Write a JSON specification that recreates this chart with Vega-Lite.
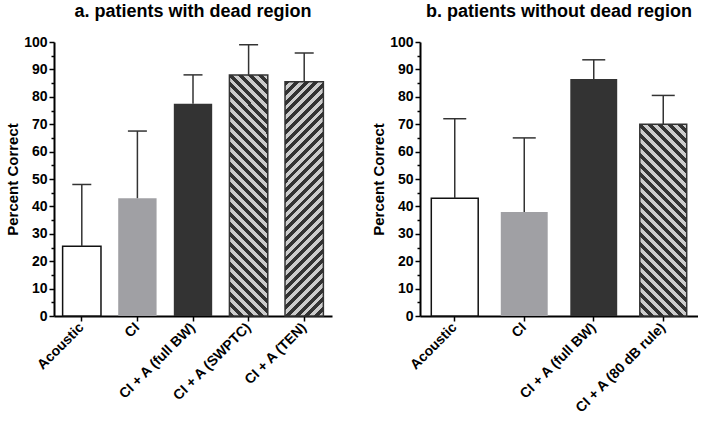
{
  "$schema": "https://vega.github.io/schema/vega-lite/v6.json",
  "padding": {"left": 5, "top": 3, "right": 0, "bottom": 0},
  "spacing": 39,
  "config": {
    "view": {"stroke": null},
    "font": "Liberation Sans",
    "title": {"fontSize": 18, "fontWeight": "bold", "color": "#000", "font": "Liberation Sans"},
    "axis": {"domainColor": "#000", "domainWidth": 2, "tickColor": "#000", "tickWidth": 1.5, "labelColor": "#000", "labelFont": "Liberation Sans", "labelFontWeight": "bold", "titleColor": "#000", "titleFont": "Liberation Sans", "titleFontWeight": "bold", "titleFontSize": 15, "grid": false},
    "axisX": {"labelFontSize": 14},
    "axisY": {"labelFontSize": 14}
  },
  "datasets": {
    "a": [
      {"group": "Acoustic", "mean": 25.5, "upper": 48},
      {"group": "CI", "mean": 43, "upper": 67.5},
      {"group": "CI + A (full BW)", "mean": 77.5, "upper": 88},
      {"group": "CI + A (SWPTC)", "mean": 88, "upper": 99},
      {"group": "CI + A (TEN)", "mean": 85.5, "upper": 96}
    ],
    "b": [
      {"group": "Acoustic", "mean": 43, "upper": 72},
      {"group": "CI", "mean": 38, "upper": 65},
      {"group": "CI + A (full BW)", "mean": 86.5, "upper": 93.5},
      {"group": "CI + A (80 dB rule)", "mean": 70, "upper": 80.5}
    ]
  },
  "hconcat": [
    {
      "width": 278,
      "height": 274,
      "title": {"text": "a. patients with dead region", "offset": 14},
      "data": {"name": "a"},
      "encoding": {
        "x": {"field": "group", "type": "nominal", "sort": null,
          "scale": {"domain": ["Acoustic", "CI", "CI + A (full BW)", "CI + A (SWPTC)", "CI + A (TEN)"], "paddingInner": 0.31, "paddingOuter": 0.155},
          "axis": {"title": null, "labelAngle": -45, "labelAlign": "right", "labelBaseline": "middle", "tickSize": 5, "labelPadding": 4}}
      },
      "layer": [
        {
          "mark": {"type": "bar", "strokeWidth": 1.5},
          "encoding": {
            "y": {"field": "mean", "type": "quantitative", "title": "Percent Correct",
              "scale": {"domain": [0, 100], "nice": false},
              "axis": {"values": [0,5,10,15,20,25,30,35,40,45,50,55,60,65,70,75,80,85,90,95,100], "labelExpr": "datum.value % 10 === 0 ? datum.label : ''", "tickSize": {"condition": {"test": "datum.value % 10 === 0", "value": 5}, "value": 3}, "labelPadding": 2, "titlePadding": 3, "labelOverlap": false, "labelFlush": false}},
            "fill": {"field": "group", "type": "nominal", "legend": null,
              "scale": {"domain": ["Acoustic", "CI", "CI + A (full BW)", "CI + A (SWPTC)", "CI + A (TEN)"], "range": ["#ffffff", "#a0a0a4", "#333333", "#333333", "#333333"]}},
            "stroke": {"condition": {"test": "datum.group === 'Acoustic'", "value": "#111"}, "value": null}
          }
        },
        {
          "transform": [{"filter": "datum.group === 'CI + A (SWPTC)'"}],
          "mark": {"type": "bar", "stroke": "#333", "strokeWidth": 1.5,
            "fill": {"gradient": "linear", "x1": 0, "y1": 1, "x2": 0.1801, "y2": -0.1306, "stops": [
{"offset":0,"color":"#333"},{"offset":0.0179,"color":"#333"},{"offset":0.0179,"color":"#ccc"},{"offset":0.0357,"color":"#ccc"},
{"offset":0.0357,"color":"#333"},{"offset":0.0536,"color":"#333"},{"offset":0.0536,"color":"#ccc"},{"offset":0.0714,"color":"#ccc"},
{"offset":0.0714,"color":"#333"},{"offset":0.0893,"color":"#333"},{"offset":0.0893,"color":"#ccc"},{"offset":0.1071,"color":"#ccc"},
{"offset":0.1071,"color":"#333"},{"offset":0.125,"color":"#333"},{"offset":0.125,"color":"#ccc"},{"offset":0.1429,"color":"#ccc"},
{"offset":0.1429,"color":"#333"},{"offset":0.1607,"color":"#333"},{"offset":0.1607,"color":"#ccc"},{"offset":0.1786,"color":"#ccc"},
{"offset":0.1786,"color":"#333"},{"offset":0.1964,"color":"#333"},{"offset":0.1964,"color":"#ccc"},{"offset":0.2143,"color":"#ccc"},
{"offset":0.2143,"color":"#333"},{"offset":0.2321,"color":"#333"},{"offset":0.2321,"color":"#ccc"},{"offset":0.25,"color":"#ccc"},
{"offset":0.25,"color":"#333"},{"offset":0.2679,"color":"#333"},{"offset":0.2679,"color":"#ccc"},{"offset":0.2857,"color":"#ccc"},
{"offset":0.2857,"color":"#333"},{"offset":0.3036,"color":"#333"},{"offset":0.3036,"color":"#ccc"},{"offset":0.3214,"color":"#ccc"},
{"offset":0.3214,"color":"#333"},{"offset":0.3393,"color":"#333"},{"offset":0.3393,"color":"#ccc"},{"offset":0.3571,"color":"#ccc"},
{"offset":0.3571,"color":"#333"},{"offset":0.375,"color":"#333"},{"offset":0.375,"color":"#ccc"},{"offset":0.3929,"color":"#ccc"},
{"offset":0.3929,"color":"#333"},{"offset":0.4107,"color":"#333"},{"offset":0.4107,"color":"#ccc"},{"offset":0.4286,"color":"#ccc"},
{"offset":0.4286,"color":"#333"},{"offset":0.4464,"color":"#333"},{"offset":0.4464,"color":"#ccc"},{"offset":0.4643,"color":"#ccc"},
{"offset":0.4643,"color":"#333"},{"offset":0.4821,"color":"#333"},{"offset":0.4821,"color":"#ccc"},{"offset":0.5,"color":"#ccc"},
{"offset":0.5,"color":"#333"},{"offset":0.5179,"color":"#333"},{"offset":0.5179,"color":"#ccc"},{"offset":0.5357,"color":"#ccc"},
{"offset":0.5357,"color":"#333"},{"offset":0.5536,"color":"#333"},{"offset":0.5536,"color":"#ccc"},{"offset":0.5714,"color":"#ccc"},
{"offset":0.5714,"color":"#333"},{"offset":0.5893,"color":"#333"},{"offset":0.5893,"color":"#ccc"},{"offset":0.6071,"color":"#ccc"},
{"offset":0.6071,"color":"#333"},{"offset":0.625,"color":"#333"},{"offset":0.625,"color":"#ccc"},{"offset":0.6429,"color":"#ccc"},
{"offset":0.6429,"color":"#333"},{"offset":0.6607,"color":"#333"},{"offset":0.6607,"color":"#ccc"},{"offset":0.6786,"color":"#ccc"},
{"offset":0.6786,"color":"#333"},{"offset":0.6964,"color":"#333"},{"offset":0.6964,"color":"#ccc"},{"offset":0.7143,"color":"#ccc"},
{"offset":0.7143,"color":"#333"},{"offset":0.7321,"color":"#333"},{"offset":0.7321,"color":"#ccc"},{"offset":0.75,"color":"#ccc"},
{"offset":0.75,"color":"#333"},{"offset":0.7679,"color":"#333"},{"offset":0.7679,"color":"#ccc"},{"offset":0.7857,"color":"#ccc"},
{"offset":0.7857,"color":"#333"},{"offset":0.8036,"color":"#333"},{"offset":0.8036,"color":"#ccc"},{"offset":0.8214,"color":"#ccc"},
{"offset":0.8214,"color":"#333"},{"offset":0.8393,"color":"#333"},{"offset":0.8393,"color":"#ccc"},{"offset":0.8571,"color":"#ccc"},
{"offset":0.8571,"color":"#333"},{"offset":0.875,"color":"#333"},{"offset":0.875,"color":"#ccc"},{"offset":0.8929,"color":"#ccc"},
{"offset":0.8929,"color":"#333"},{"offset":0.9107,"color":"#333"},{"offset":0.9107,"color":"#ccc"},{"offset":0.9286,"color":"#ccc"},
{"offset":0.9286,"color":"#333"},{"offset":0.9464,"color":"#333"},{"offset":0.9464,"color":"#ccc"},{"offset":0.9643,"color":"#ccc"},
{"offset":0.9643,"color":"#333"},{"offset":0.9821,"color":"#333"},{"offset":0.9821,"color":"#ccc"},{"offset":1,"color":"#ccc"}
            ]}},
          "encoding": {"y": {"field": "mean", "type": "quantitative", "title": "Percent Correct",
            "axis": {"values": [0,5,10,15,20,25,30,35,40,45,50,55,60,65,70,75,80,85,90,95,100], "labelExpr": "datum.value % 10 === 0 ? datum.label : ''", "tickSize": {"condition": {"test": "datum.value % 10 === 0", "value": 5}, "value": 3}, "labelPadding": 2, "titlePadding": 3, "labelOverlap": false, "labelFlush": false}}}
        },
        {
          "transform": [{"filter": "datum.group === 'CI + A (TEN)'"}],
          "mark": {"type": "bar", "stroke": "#333", "strokeWidth": 1.5,
            "fill": {"gradient": "linear", "x1": 0, "y1": 0, "x2": 0.1858, "y2": 1.1335, "stops": [
{"offset":0,"color":"#333"},{"offset":0.0179,"color":"#333"},{"offset":0.0179,"color":"#ccc"},{"offset":0.0357,"color":"#ccc"},
{"offset":0.0357,"color":"#333"},{"offset":0.0536,"color":"#333"},{"offset":0.0536,"color":"#ccc"},{"offset":0.0714,"color":"#ccc"},
{"offset":0.0714,"color":"#333"},{"offset":0.0893,"color":"#333"},{"offset":0.0893,"color":"#ccc"},{"offset":0.1071,"color":"#ccc"},
{"offset":0.1071,"color":"#333"},{"offset":0.125,"color":"#333"},{"offset":0.125,"color":"#ccc"},{"offset":0.1429,"color":"#ccc"},
{"offset":0.1429,"color":"#333"},{"offset":0.1607,"color":"#333"},{"offset":0.1607,"color":"#ccc"},{"offset":0.1786,"color":"#ccc"},
{"offset":0.1786,"color":"#333"},{"offset":0.1964,"color":"#333"},{"offset":0.1964,"color":"#ccc"},{"offset":0.2143,"color":"#ccc"},
{"offset":0.2143,"color":"#333"},{"offset":0.2321,"color":"#333"},{"offset":0.2321,"color":"#ccc"},{"offset":0.25,"color":"#ccc"},
{"offset":0.25,"color":"#333"},{"offset":0.2679,"color":"#333"},{"offset":0.2679,"color":"#ccc"},{"offset":0.2857,"color":"#ccc"},
{"offset":0.2857,"color":"#333"},{"offset":0.3036,"color":"#333"},{"offset":0.3036,"color":"#ccc"},{"offset":0.3214,"color":"#ccc"},
{"offset":0.3214,"color":"#333"},{"offset":0.3393,"color":"#333"},{"offset":0.3393,"color":"#ccc"},{"offset":0.3571,"color":"#ccc"},
{"offset":0.3571,"color":"#333"},{"offset":0.375,"color":"#333"},{"offset":0.375,"color":"#ccc"},{"offset":0.3929,"color":"#ccc"},
{"offset":0.3929,"color":"#333"},{"offset":0.4107,"color":"#333"},{"offset":0.4107,"color":"#ccc"},{"offset":0.4286,"color":"#ccc"},
{"offset":0.4286,"color":"#333"},{"offset":0.4464,"color":"#333"},{"offset":0.4464,"color":"#ccc"},{"offset":0.4643,"color":"#ccc"},
{"offset":0.4643,"color":"#333"},{"offset":0.4821,"color":"#333"},{"offset":0.4821,"color":"#ccc"},{"offset":0.5,"color":"#ccc"},
{"offset":0.5,"color":"#333"},{"offset":0.5179,"color":"#333"},{"offset":0.5179,"color":"#ccc"},{"offset":0.5357,"color":"#ccc"},
{"offset":0.5357,"color":"#333"},{"offset":0.5536,"color":"#333"},{"offset":0.5536,"color":"#ccc"},{"offset":0.5714,"color":"#ccc"},
{"offset":0.5714,"color":"#333"},{"offset":0.5893,"color":"#333"},{"offset":0.5893,"color":"#ccc"},{"offset":0.6071,"color":"#ccc"},
{"offset":0.6071,"color":"#333"},{"offset":0.625,"color":"#333"},{"offset":0.625,"color":"#ccc"},{"offset":0.6429,"color":"#ccc"},
{"offset":0.6429,"color":"#333"},{"offset":0.6607,"color":"#333"},{"offset":0.6607,"color":"#ccc"},{"offset":0.6786,"color":"#ccc"},
{"offset":0.6786,"color":"#333"},{"offset":0.6964,"color":"#333"},{"offset":0.6964,"color":"#ccc"},{"offset":0.7143,"color":"#ccc"},
{"offset":0.7143,"color":"#333"},{"offset":0.7321,"color":"#333"},{"offset":0.7321,"color":"#ccc"},{"offset":0.75,"color":"#ccc"},
{"offset":0.75,"color":"#333"},{"offset":0.7679,"color":"#333"},{"offset":0.7679,"color":"#ccc"},{"offset":0.7857,"color":"#ccc"},
{"offset":0.7857,"color":"#333"},{"offset":0.8036,"color":"#333"},{"offset":0.8036,"color":"#ccc"},{"offset":0.8214,"color":"#ccc"},
{"offset":0.8214,"color":"#333"},{"offset":0.8393,"color":"#333"},{"offset":0.8393,"color":"#ccc"},{"offset":0.8571,"color":"#ccc"},
{"offset":0.8571,"color":"#333"},{"offset":0.875,"color":"#333"},{"offset":0.875,"color":"#ccc"},{"offset":0.8929,"color":"#ccc"},
{"offset":0.8929,"color":"#333"},{"offset":0.9107,"color":"#333"},{"offset":0.9107,"color":"#ccc"},{"offset":0.9286,"color":"#ccc"},
{"offset":0.9286,"color":"#333"},{"offset":0.9464,"color":"#333"},{"offset":0.9464,"color":"#ccc"},{"offset":0.9643,"color":"#ccc"},
{"offset":0.9643,"color":"#333"},{"offset":0.9821,"color":"#333"},{"offset":0.9821,"color":"#ccc"},{"offset":1,"color":"#ccc"}
            ]}},
          "encoding": {"y": {"field": "mean", "type": "quantitative", "title": "Percent Correct",
            "axis": {"values": [0,5,10,15,20,25,30,35,40,45,50,55,60,65,70,75,80,85,90,95,100], "labelExpr": "datum.value % 10 === 0 ? datum.label : ''", "tickSize": {"condition": {"test": "datum.value % 10 === 0", "value": 5}, "value": 3}, "labelPadding": 2, "titlePadding": 3, "labelOverlap": false, "labelFlush": false}}}
        },
        {
          "mark": {"type": "rule", "color": "#333", "strokeWidth": 1.5},
          "encoding": {"y": {"field": "mean", "type": "quantitative", "title": "Percent Correct",
            "axis": {"values": [0,5,10,15,20,25,30,35,40,45,50,55,60,65,70,75,80,85,90,95,100], "labelExpr": "datum.value % 10 === 0 ? datum.label : ''", "tickSize": {"condition": {"test": "datum.value % 10 === 0", "value": 5}, "value": 3}, "labelPadding": 2, "titlePadding": 3, "labelOverlap": false, "labelFlush": false}},
            "y2": {"field": "upper"}}
        },
        {
          "mark": {"type": "tick", "color": "#333", "thickness": 1.5, "size": 19, "opacity": 1},
          "encoding": {"y": {"field": "upper", "type": "quantitative", "title": "Percent Correct",
            "axis": {"values": [0,5,10,15,20,25,30,35,40,45,50,55,60,65,70,75,80,85,90,95,100], "labelExpr": "datum.value % 10 === 0 ? datum.label : ''", "tickSize": {"condition": {"test": "datum.value % 10 === 0", "value": 5}, "value": 3}, "labelPadding": 2, "titlePadding": 3, "labelOverlap": false, "labelFlush": false}}}
        }
      ]
    },
    {
      "width": 278,
      "height": 274,
      "title": {"text": "b. patients without dead region", "offset": 14},
      "data": {"name": "b"},
      "encoding": {
        "x": {"field": "group", "type": "nominal", "sort": null,
          "scale": {"domain": ["Acoustic", "CI", "CI + A (full BW)", "CI + A (80 dB rule)"], "paddingInner": 0.325, "paddingOuter": 0.1625},
          "axis": {"title": null, "labelAngle": -45, "labelAlign": "right", "labelBaseline": "middle", "tickSize": 5, "labelPadding": 4}}
      },
      "layer": [
        {
          "mark": {"type": "bar", "strokeWidth": 1.5},
          "encoding": {
            "y": {"field": "mean", "type": "quantitative", "title": "Percent Correct",
              "scale": {"domain": [0, 100], "nice": false},
              "axis": {"values": [0,5,10,15,20,25,30,35,40,45,50,55,60,65,70,75,80,85,90,95,100], "labelExpr": "datum.value % 10 === 0 ? datum.label : ''", "tickSize": {"condition": {"test": "datum.value % 10 === 0", "value": 5}, "value": 3}, "labelPadding": 2, "titlePadding": 3, "labelOverlap": false, "labelFlush": false}},
            "fill": {"field": "group", "type": "nominal", "legend": null,
              "scale": {"domain": ["Acoustic", "CI", "CI + A (full BW)", "CI + A (80 dB rule)"], "range": ["#ffffff", "#a0a0a4", "#333333", "#333333"]}},
            "stroke": {"condition": {"test": "datum.group === 'Acoustic'", "value": "#111"}, "value": null}
          }
        },
        {
          "transform": [{"filter": "datum.group === 'CI + A (80 dB rule)'"}],
          "mark": {"type": "bar", "stroke": "#333", "strokeWidth": 1.5,
            "fill": {"gradient": "linear", "x1": 0, "y1": 1, "x2": 0.2872, "y2": -0.1743, "stops": [
{"offset":0,"color":"#333"},{"offset":0.0208,"color":"#333"},{"offset":0.0208,"color":"#ccc"},{"offset":0.0417,"color":"#ccc"},
{"offset":0.0417,"color":"#333"},{"offset":0.0625,"color":"#333"},{"offset":0.0625,"color":"#ccc"},{"offset":0.0833,"color":"#ccc"},
{"offset":0.0833,"color":"#333"},{"offset":0.1042,"color":"#333"},{"offset":0.1042,"color":"#ccc"},{"offset":0.125,"color":"#ccc"},
{"offset":0.125,"color":"#333"},{"offset":0.1458,"color":"#333"},{"offset":0.1458,"color":"#ccc"},{"offset":0.1667,"color":"#ccc"},
{"offset":0.1667,"color":"#333"},{"offset":0.1875,"color":"#333"},{"offset":0.1875,"color":"#ccc"},{"offset":0.2083,"color":"#ccc"},
{"offset":0.2083,"color":"#333"},{"offset":0.2292,"color":"#333"},{"offset":0.2292,"color":"#ccc"},{"offset":0.25,"color":"#ccc"},
{"offset":0.25,"color":"#333"},{"offset":0.2708,"color":"#333"},{"offset":0.2708,"color":"#ccc"},{"offset":0.2917,"color":"#ccc"},
{"offset":0.2917,"color":"#333"},{"offset":0.3125,"color":"#333"},{"offset":0.3125,"color":"#ccc"},{"offset":0.3333,"color":"#ccc"},
{"offset":0.3333,"color":"#333"},{"offset":0.3542,"color":"#333"},{"offset":0.3542,"color":"#ccc"},{"offset":0.375,"color":"#ccc"},
{"offset":0.375,"color":"#333"},{"offset":0.3958,"color":"#333"},{"offset":0.3958,"color":"#ccc"},{"offset":0.4167,"color":"#ccc"},
{"offset":0.4167,"color":"#333"},{"offset":0.4375,"color":"#333"},{"offset":0.4375,"color":"#ccc"},{"offset":0.4583,"color":"#ccc"},
{"offset":0.4583,"color":"#333"},{"offset":0.4792,"color":"#333"},{"offset":0.4792,"color":"#ccc"},{"offset":0.5,"color":"#ccc"},
{"offset":0.5,"color":"#333"},{"offset":0.5208,"color":"#333"},{"offset":0.5208,"color":"#ccc"},{"offset":0.5417,"color":"#ccc"},
{"offset":0.5417,"color":"#333"},{"offset":0.5625,"color":"#333"},{"offset":0.5625,"color":"#ccc"},{"offset":0.5833,"color":"#ccc"},
{"offset":0.5833,"color":"#333"},{"offset":0.6042,"color":"#333"},{"offset":0.6042,"color":"#ccc"},{"offset":0.625,"color":"#ccc"},
{"offset":0.625,"color":"#333"},{"offset":0.6458,"color":"#333"},{"offset":0.6458,"color":"#ccc"},{"offset":0.6667,"color":"#ccc"},
{"offset":0.6667,"color":"#333"},{"offset":0.6875,"color":"#333"},{"offset":0.6875,"color":"#ccc"},{"offset":0.7083,"color":"#ccc"},
{"offset":0.7083,"color":"#333"},{"offset":0.7292,"color":"#333"},{"offset":0.7292,"color":"#ccc"},{"offset":0.75,"color":"#ccc"},
{"offset":0.75,"color":"#333"},{"offset":0.7708,"color":"#333"},{"offset":0.7708,"color":"#ccc"},{"offset":0.7917,"color":"#ccc"},
{"offset":0.7917,"color":"#333"},{"offset":0.8125,"color":"#333"},{"offset":0.8125,"color":"#ccc"},{"offset":0.8333,"color":"#ccc"},
{"offset":0.8333,"color":"#333"},{"offset":0.8542,"color":"#333"},{"offset":0.8542,"color":"#ccc"},{"offset":0.875,"color":"#ccc"},
{"offset":0.875,"color":"#333"},{"offset":0.8958,"color":"#333"},{"offset":0.8958,"color":"#ccc"},{"offset":0.9167,"color":"#ccc"},
{"offset":0.9167,"color":"#333"},{"offset":0.9375,"color":"#333"},{"offset":0.9375,"color":"#ccc"},{"offset":0.9583,"color":"#ccc"},
{"offset":0.9583,"color":"#333"},{"offset":0.9792,"color":"#333"},{"offset":0.9792,"color":"#ccc"},{"offset":1,"color":"#ccc"}
            ]}},
          "encoding": {"y": {"field": "mean", "type": "quantitative", "title": "Percent Correct",
            "axis": {"values": [0,5,10,15,20,25,30,35,40,45,50,55,60,65,70,75,80,85,90,95,100], "labelExpr": "datum.value % 10 === 0 ? datum.label : ''", "tickSize": {"condition": {"test": "datum.value % 10 === 0", "value": 5}, "value": 3}, "labelPadding": 2, "titlePadding": 3, "labelOverlap": false, "labelFlush": false}}}
        },
        {
          "mark": {"type": "rule", "color": "#333", "strokeWidth": 1.5},
          "encoding": {"y": {"field": "mean", "type": "quantitative", "title": "Percent Correct",
            "axis": {"values": [0,5,10,15,20,25,30,35,40,45,50,55,60,65,70,75,80,85,90,95,100], "labelExpr": "datum.value % 10 === 0 ? datum.label : ''", "tickSize": {"condition": {"test": "datum.value % 10 === 0", "value": 5}, "value": 3}, "labelPadding": 2, "titlePadding": 3, "labelOverlap": false, "labelFlush": false}},
            "y2": {"field": "upper"}}
        },
        {
          "mark": {"type": "tick", "color": "#333", "thickness": 1.5, "size": 23, "opacity": 1},
          "encoding": {"y": {"field": "upper", "type": "quantitative", "title": "Percent Correct",
            "axis": {"values": [0,5,10,15,20,25,30,35,40,45,50,55,60,65,70,75,80,85,90,95,100], "labelExpr": "datum.value % 10 === 0 ? datum.label : ''", "tickSize": {"condition": {"test": "datum.value % 10 === 0", "value": 5}, "value": 3}, "labelPadding": 2, "titlePadding": 3, "labelOverlap": false, "labelFlush": false}}}
        }
      ]
    }
  ]
}
